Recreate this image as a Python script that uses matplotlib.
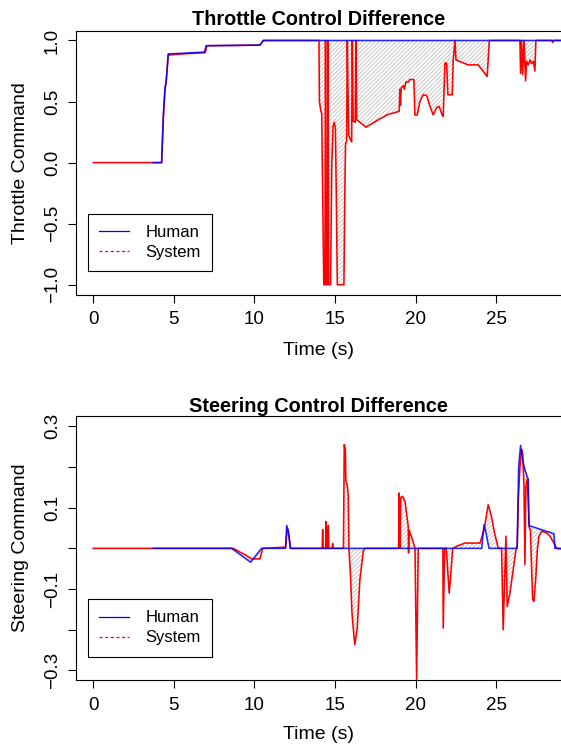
import matplotlib
matplotlib.use('Agg')
import matplotlib.pyplot as plt
from matplotlib.lines import Line2D
import numpy as np

plt.rcParams['font.family'] = ['Liberation Sans', 'DejaVu Sans']
plt.rcParams['hatch.linewidth'] = 0.6

#####################################################################
# throttle: human (blue) and system (red), time in s

thr_human_t = [3.72, 4.24, 4.35, 4.45, 4.52, 4.65, 5.5, 6.9, 7.0, 10.34, 10.55, 29.5]
thr_human_v = [0.0, 0.0, 0.40, 0.61, 0.66, 0.89, 0.895, 0.905, 0.957, 0.962, 1.0, 1.0]

thr_sys_t = [0.0, 3.72, 4.24, 4.35, 4.45, 4.52, 4.65, 5.5, 6.95, 7.05, 10.34, 10.55,
             14.00, 14.03, 14.12, 14.17, 14.30, 14.37, 14.41, 14.45, 14.52, 14.56,
             14.60, 14.72, 14.80, 14.88, 14.95, 15.02, 15.08, 15.14, 15.55, 15.60,
             15.65, 15.72, 15.76, 15.80, 15.85, 15.95, 16.03, 16.07, 16.12, 16.25,
             16.29, 16.34, 16.45, 16.54, 16.92, 17.3, 17.8, 18.3, 18.6, 18.98,
             19.02, 19.06, 19.10, 19.25, 19.30, 19.40, 19.55, 19.64, 19.89, 19.95,
             20.10, 20.26, 20.47, 20.68, 20.89, 21.09, 21.30, 21.46, 21.67, 21.71,
             21.82, 21.92, 22.00, 22.27, 22.33, 22.44, 22.50, 23.26, 23.88, 24.44,
             24.57, 26.47, 26.51, 26.57, 26.64, 26.72, 26.82, 26.88, 26.99, 27.09,
             27.20, 27.30, 27.40, 27.46, 28.43, 28.50, 28.58, 29.5]
thr_sys_v = [0.0, 0.0, 0.0, 0.38, 0.60, 0.66, 0.88, 0.89, 0.90, 0.957, 0.962, 1.0,
             1.0, 0.50, 0.42, 0.405, -1.0, -1.0, 1.0, -1.0, -1.0, 1.0,
             -1.0, -1.0, 0.0, 0.30, 0.33, 0.28, -0.3, -1.0, -1.0, -0.3,
             0.15, 0.18, 1.0, 0.6, 0.22, 0.19, 0.17, 1.0, 0.34, 0.33,
             1.0, 0.35, 0.34, 0.33, 0.29, 0.32, 0.36, 0.395, 0.405, 0.42,
             0.60, 0.47, 0.61, 0.63, 0.60, 0.66, 0.66, 0.68, 0.68, 0.39,
             0.39, 0.50, 0.555, 0.55, 0.46, 0.39, 0.45, 0.46, 0.38, 0.38,
             0.815, 0.815, 0.555, 0.555, 0.84, 1.0, 0.84, 0.80, 0.80, 0.705,
             1.0, 1.0, 0.73, 1.0, 0.72, 1.0, 0.67, 0.83, 0.80, 0.84,
             0.81, 0.83, 0.75, 1.0, 1.0, 0.984, 1.0, 1.0]

# steering: human (blue) and system (red)

str_human_t = [3.72, 8.58, 9.76, 10.44, 11.93, 12.00, 12.10, 12.24, 24.10, 24.24,
               24.33, 24.55, 26.30, 26.39, 26.51, 26.64, 26.78, 26.92, 26.99, 27.03,
               28.58, 28.64, 29.5]
str_human_v = [0.0, 0.0, -0.034, 0.0, 0.0, 0.056, 0.044, 0.0, 0.0, 0.058,
               0.045, 0.0, 0.0, 0.20, 0.253, 0.217, 0.193, 0.176, 0.17, 0.056,
               0.036, 0.0, 0.0]

str_sys_t = [0.0, 8.68, 9.51, 9.82, 10.34, 10.51, 11.93, 12.03, 12.10, 12.22,
             14.20, 14.23, 14.26, 14.41, 14.44, 14.47, 14.55, 14.58, 14.61, 14.82,
             14.85, 14.88, 15.52, 15.57, 15.64, 15.67, 15.75, 15.82, 15.86, 15.95,
             16.05, 16.22, 16.37, 16.54, 16.75, 16.85, 18.94, 18.98, 19.02, 19.08,
             19.19, 19.34, 19.54, 19.56, 19.60, 19.81, 19.96, 20.06, 20.16, 21.69,
             21.71, 21.80, 21.90, 22.08, 22.15, 22.30, 22.60, 23.05, 23.99, 24.24,
             24.50, 24.70, 24.90, 25.13, 25.33, 25.43, 25.60, 25.68, 25.85, 26.06,
             26.22, 26.30, 26.37, 26.47, 26.57, 26.64, 26.72, 26.78, 26.84, 26.92,
             27.05, 27.12, 27.19, 27.26, 27.34, 27.46, 27.55, 27.65, 27.82, 28.13,
             28.33, 28.58, 28.75, 29.5]
str_sys_v = [0.0, 0.0, -0.018, -0.026, -0.026, 0.0, 0.003, 0.048, 0.040, 0.0,
             0.0, 0.046, 0.0, 0.0, 0.066, 0.0, 0.0, 0.056, 0.0, 0.0,
             0.012, 0.0, 0.0, 0.255, 0.243, 0.165, 0.157, 0.128, 0.0, -0.06,
             -0.159, -0.237, -0.20, -0.077, -0.007, 0.0, 0.0, 0.136, 0.0, 0.125,
             0.128, 0.115, 0.054, -0.011, 0.045, 0.02, 0.0, -0.323, 0.0, 0.0,
             -0.196, 0.0, 0.0, -0.11, -0.08, 0.0, 0.006, 0.013, 0.013, 0.045,
             0.107, 0.079, 0.037, 0.0, 0.0, -0.20, 0.03, -0.143, -0.11, -0.05,
             -0.005, 0.008, 0.12, 0.20, 0.243, 0.234, 0.152, -0.04, 0.152, 0.17,
             0.05, 0.045, -0.044, -0.126, -0.13, -0.069, -0.003, 0.03, 0.042, 0.038,
             0.03, 0.013, 0.0, -0.004]

time_ticks = [0, 5, 10, 15, 20, 25]

#####################################################################

fig = plt.figure(figsize=(5.61, 7.44), dpi=100)

ax1 = fig.add_axes([75.5/561, (744-294.5)/744, (562-75.5)/561, 263.8/744])
ax2 = fig.add_axes([75.5/561, (744-680)/744, (562-75.5)/561, 264.3/744])


def draw_panel(ax, ht, hv, st, sv):
    # hatched area between the two commands
    t = np.union1d(ht, st)
    h = np.interp(t, ht, hv)
    s = np.interp(t, st, sv)
    ax.fill_between(t, h, s, facecolor='none', edgecolor='#bdbdbd',
                    hatch='////////', linewidth=0)
    ax.plot(st, sv, color='red', lw=1.15)
    ax.plot(ht, hv, color='blue', lw=1.15, alpha=0.85)
    ax.set_xlim(-1.104, 29.08)
    ax.set_xticks(time_ticks)
    ax.tick_params(axis='both', direction='out', length=5.5, width=0.8,
                   labelsize=13.5, color='black')
    ax.tick_params(axis='x', pad=6.5)
    ax.tick_params(axis='y', pad=5)
    for side in ['top', 'bottom', 'left', 'right']:
        ax.spines[side].set_linewidth(0.8)
        ax.spines[side].set_color('black')
    handles = [Line2D([], [], color='blue', lw=0.9),
               Line2D([], [], color='red', lw=0.9, dashes=(2.5, 2))]
    leg = ax.legend(handles, ['Human', 'System'], loc='lower left',
                    bbox_to_anchor=(0.0257, 0.088), borderaxespad=0,
                    fontsize=12, frameon=True, fancybox=False,
                    edgecolor='black', framealpha=1, handlelength=1.8,
                    handletextpad=0.95, borderpad=0.68, labelspacing=0.3)
    leg.get_frame().set_linewidth(0.8)
    ax.set_xlabel('Time (s)', fontsize=14)


draw_panel(ax1, thr_human_t, thr_human_v, thr_sys_t, thr_sys_v)
ax1.set_ylim(-1.08, 1.08)
ax1.set_yticks([-1.0, -0.5, 0.0, 0.5, 1.0])
ax1.set_yticklabels(['\u22121.0', '\u22120.5', '0.0', '0.5', '1.0'],
                    rotation=90, va='center')
ax1.set_ylabel('Throttle Command', fontsize=14)
ax1.yaxis.set_label_coords(-0.095, 0.5)
ax1.xaxis.set_label_coords(0.5, -0.18)
ax1.set_title('Throttle Control Difference', fontsize=14.3,
              fontweight='bold', pad=4)

draw_panel(ax2, str_human_t, str_human_v, str_sys_t, str_sys_v)
ax2.set_ylim(-0.3235, 0.326)
ax2.set_yticks([-0.3, -0.2, -0.1, 0.0, 0.1, 0.2, 0.3])
ax2.set_yticklabels(['\u22120.3', '', '\u22120.1', '', '0.1', '', '0.3'],
                    rotation=90, va='center')
ax2.set_ylabel('Steering Command', fontsize=14)
ax2.yaxis.set_label_coords(-0.095, 0.5)
ax2.xaxis.set_label_coords(0.5, -0.174)
ax2.set_title('Steering Control Difference', fontsize=14.3,
              fontweight='bold', pad=2)

fig.savefig('out.png', dpi=100)
